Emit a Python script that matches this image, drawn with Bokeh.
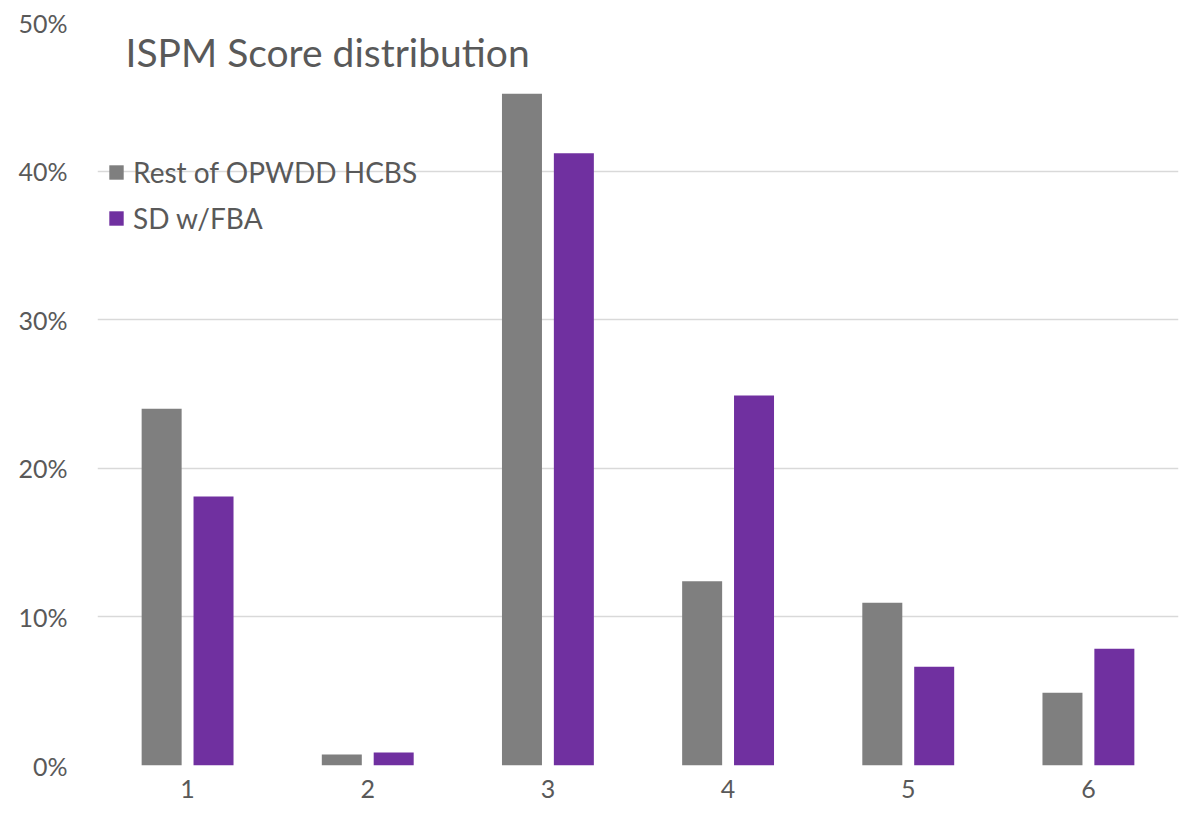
from bokeh.plotting import figure
from bokeh.models import ColumnDataSource, FactorRange, Range1d, FixedTicker, NumeralTickFormatter, Label, Legend, LegendItem
from bokeh.transform import dodge
from bokeh.embed import file_html
from bokeh.resources import INLINE

categories = ["1", "2", "3", "4", "5", "6"]
rest_hcbs = [0.240, 0.0074, 0.452, 0.124, 0.1095, 0.049]
sd_fba = [0.181, 0.0087, 0.412, 0.249, 0.0665, 0.0786]
series_names = ["Rest of OPWDD HCBS", "SD w/FBA"]
y_ticks = [0, 0.1, 0.2, 0.3, 0.4, 0.5]
title_text = "ISPM Score distribution"

FONT = "Lato"
TXT = "#595959"

src = ColumnDataSource(dict(cat=categories, rest=rest_hcbs, sd=sd_fba))

p = figure(width=1190, height=818, x_range=FactorRange(*categories, range_padding=0),
           y_range=Range1d(0, 0.5), output_backend="svg", toolbar_location=None,
           min_border_left=97, min_border_right=12, min_border_top=22, min_border_bottom=53)
p.outline_line_color = None
p.background_fill_color = "white"
p.border_fill_color = "white"

r1 = p.vbar(x=dodge("cat", -0.144, range=p.x_range), top="rest", width=0.222, source=src,
            fill_color="#7F7F7F", line_color=None)
r2 = p.vbar(x=dodge("cat", 0.144, range=p.x_range), top="sd", width=0.222, source=src,
            fill_color="#7030A0", line_color=None)

p.xgrid.grid_line_color = None
p.ygrid.grid_line_color = "#D9D9D9"
p.ygrid.grid_line_width = 1.3
p.yaxis.ticker = FixedTicker(ticks=y_ticks)
p.yaxis.formatter = NumeralTickFormatter(format="0%")

for ax in (p.xaxis[0], p.yaxis[0]):
    ax.axis_line_color = None
    ax.major_tick_line_color = None
    ax.minor_tick_line_color = None
    ax.major_label_text_font = FONT
    ax.major_label_text_color = TXT
    ax.major_label_text_font_size = "25px"
p.yaxis.major_label_standoff = 24
p.xaxis.major_label_standoff = 8

p.add_layout(Label(x=28, y=714, x_units="screen", y_units="screen", text=title_text,
                   text_font=FONT, text_font_size="39px", text_color=TXT,
                   text_baseline="alphabetic"))

legend = Legend(items=[LegendItem(label=series_names[0], renderers=[r1]),
                       LegendItem(label=series_names[1], renderers=[r2])],
                location=(10, 530), padding=0, spacing=12,
                glyph_width=18, glyph_height=18, label_standoff=8,
                label_text_font=FONT, label_text_font_size="28px", label_text_color=TXT,
                background_fill_alpha=0, border_line_color=None)
p.add_layout(legend)

open("out.html", "w").write(file_html(p, INLINE))
